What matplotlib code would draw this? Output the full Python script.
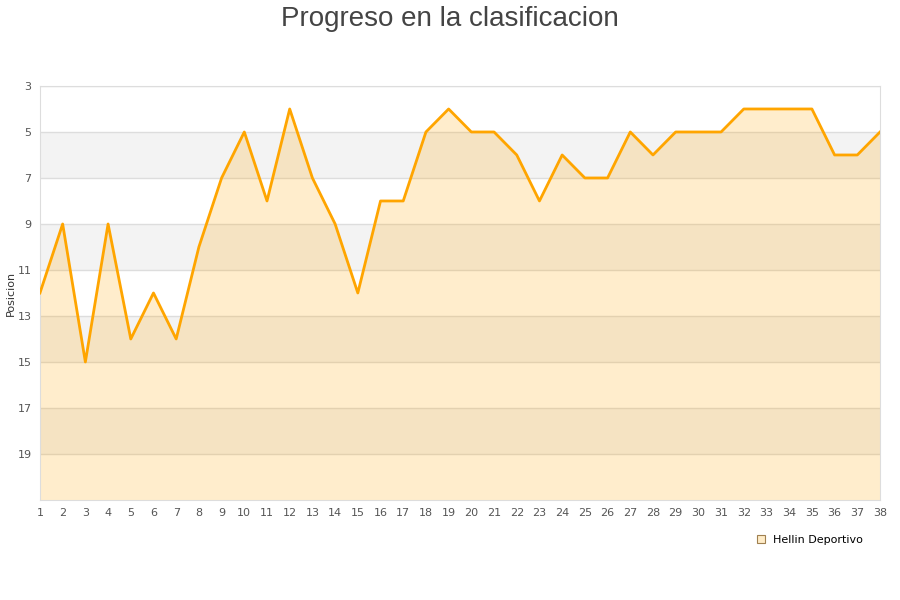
import matplotlib
matplotlib.use('Agg')
import matplotlib.pyplot as plt
from matplotlib.patches import Patch

jornadas = list(range(1, 39))
posicion = [12, 9, 15, 9, 14, 12, 14, 10, 7, 5,
            8, 4, 7, 9, 12, 8, 8, 5, 4, 5,
            5, 6, 8, 6, 7, 7, 5, 6, 5, 5,
            5, 4, 4, 4, 4, 6, 6, 5]
y_ticks = [3, 5, 7, 9, 11, 13, 15, 17, 19]
equipo = 'Hellin Deportivo'

fig = plt.figure(figsize=(9, 6), dpi=100)
ax = fig.add_axes([0.0444, 0.1667, 0.9334, 0.69])

# bandas alternas de fondo
for i, lo in enumerate(range(3, 21, 2)):
    if i % 2 == 1:
        ax.axhspan(lo, lo + 2, color='#f3f3f3', zorder=0, lw=0)

ax.fill_between(jornadas, posicion, 21, color='orange', alpha=0.2, lw=0, zorder=2)
ax.plot(jornadas, posicion, color='#ffa500', lw=2, zorder=3)

ax.set_xlim(1, 38)
ax.set_ylim(21, 3)
ax.set_xticks(jornadas)
ax.set_yticks(y_ticks)
ax.grid(axis='y', color='#dddddd', lw=1, zorder=1)
ax.set_axisbelow(True)
ax.tick_params(length=0, labelsize=8, colors='#555555', pad=6)
for s in ax.spines.values():
    s.set_color('#dddddd')

ax.set_ylabel('Posicion', fontsize=8, color='#333333', labelpad=1)
fig.suptitle('Progreso en la clasificacion', fontsize=20, color='#444444',
             y=0.99, family='Liberation Sans')

fig.legend(handles=[Patch(facecolor='#ffecc8', edgecolor='#a08050', lw=0.8)],
           labels=[equipo], loc='center', bbox_to_anchor=(0.9, 0.1),
           frameon=False, fontsize=8, handlelength=0.7, handleheight=0.7,
           handletextpad=0.8)

fig.savefig('out.png', dpi=100)
